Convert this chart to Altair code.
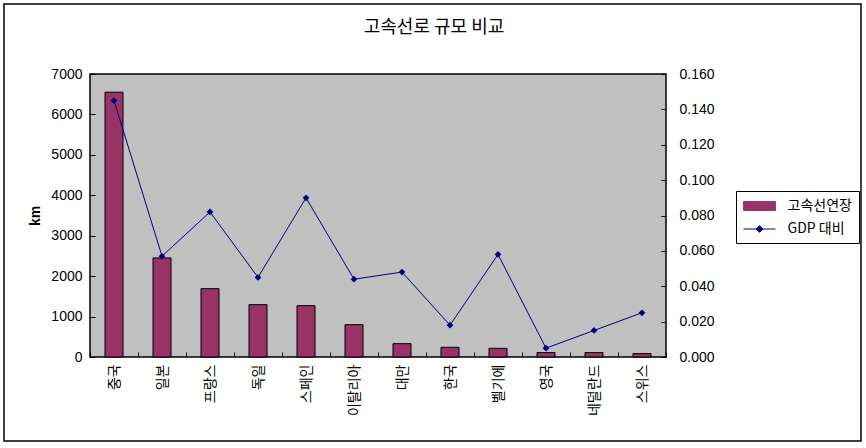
import altair as alt
import pandas as pd

countries = ["중국", "일본", "프랑스", "독일", "스페인", "이탈리아", "대만", "한국", "벨기에", "영국", "네덜란드", "스위스"]
km_values = [6550, 2450, 1690, 1295, 1270, 800, 330, 240, 215, 110, 110, 85]
gdp_ratio = [0.145, 0.057, 0.082, 0.045, 0.090, 0.044, 0.048, 0.018, 0.058, 0.005, 0.015, 0.025]
km_ticks = [0, 1000, 2000, 3000, 4000, 5000, 6000, 7000]
gdp_ticks = [0.0, 0.02, 0.04, 0.06, 0.08, 0.10, 0.12, 0.14, 0.16]
series_names = ["고속선연장", "GDP 대비"]
chart_title = "고속선로 규모 비교"

KR = "Noto Sans CJK KR"
NUM = "Liberation Sans"
BAR_COLOR = "#993366"
LINE_COLOR = "#000080"
TICK_COLOR = "black"

df = pd.DataFrame({"country": countries, "km": km_values, "gdp": gdp_ratio})

color_scale = alt.Scale(domain=series_names, range=[BAR_COLOR, LINE_COLOR])

RECT_PATH = "M-2.13,-0.6H2.13V0.6H-2.13Z"
LINE_PATH = "M-2.13,0H2.13M-0.45,0L0,-0.45L0.45,0L0,0.45Z"
is_bar = f"datum.value === '{series_names[0]}'"

legend = alt.Legend(
    title=None,
    orient="none",
    legendX=646,
    legendY=117,
    padding=7,
    strokeColor="black",
    fillColor="white",
    symbolSize=225,
    symbolOffset=8.5,
    labelOffset=20,
    rowPadding=8,
    labelFont=KR,
    labelFontSize=14,
    labelColor="black",
    symbolType={"expr": f"{is_bar} ? '{RECT_PATH}' : '{LINE_PATH}'"},
    symbolFillColor={"expr": f"{is_bar} ? '{BAR_COLOR}' : '{LINE_COLOR}'"},
    symbolStrokeColor={"expr": f"{is_bar} ? 'black' : '{LINE_COLOR}'"},
    symbolStrokeWidth=1,
    symbolOpacity=1,
)

# Axes are shifted 5px into the plot so that their (outward) ticks point inward,
# as in the reference; the plot frame itself comes from the view stroke.
x_axis = alt.Axis(
    title=None,
    labelAngle=-90,
    tickBand="extent",
    tickSize=5,
    tickWidth=1,
    tickColor=TICK_COLOR,
    offset=-5,
    domain=False,
    labelPadding=7,
    labelFont=KR,
    labelFontSize=14,
    labelColor="black",
    zindex=1,
)
x_enc = alt.X("country:N", sort=countries, scale=alt.Scale(paddingInner=0, paddingOuter=0), axis=x_axis)

km_axis = alt.Axis(
    orient="left",
    values=km_ticks,
    format="d",
    grid=False,
    tickSize=5,
    tickWidth=1,
    tickColor=TICK_COLOR,
    offset=-5,
    domain=False,
    labelPadding=8,
    labelFont=NUM,
    labelFontSize=14,
    labelColor="black",
    title="km",
    titleFont=NUM,
    titleFontSize=14,
    titleFontWeight="bold",
    titleColor="black",
    titlePadding=8,
    zindex=1,
)

gdp_axis = alt.Axis(
    orient="right",
    values=gdp_ticks,
    format=".3f",
    grid=False,
    tickSize=5,
    tickWidth=1,
    tickColor=TICK_COLOR,
    offset=-5,
    domain=False,
    labelPadding=13,
    labelFont=NUM,
    labelFontSize=14,
    labelColor="black",
    title=None,
    zindex=1,
)

bars = (
    alt.Chart(df)
    .transform_calculate(series=f"'{series_names[0]}'")
    .mark_bar(size=18, stroke="black", strokeWidth=1)
    .encode(
        x=x_enc,
        y=alt.Y("km:Q", scale=alt.Scale(domain=[0, 7000], nice=False), axis=km_axis),
        color=alt.Color("series:N", scale=color_scale, legend=legend),
    )
)

gdp_scale = alt.Scale(domain=[0, 0.16], nice=False)

line = (
    alt.Chart(df)
    .transform_calculate(series=f"'{series_names[1]}'")
    .mark_line(strokeWidth=1)
    .encode(
        x=x_enc,
        y=alt.Y("gdp:Q", scale=gdp_scale, axis=gdp_axis),
        color=alt.Color("series:N", scale=color_scale, legend=legend),
    )
)

points = (
    alt.Chart(df)
    .mark_point(shape="diamond", filled=True, size=45, color=LINE_COLOR, opacity=1)
    .encode(x=x_enc, y=alt.Y("gdp:Q", scale=gdp_scale, axis=gdp_axis))
)

frame = (
    alt.Chart(pd.DataFrame({"a": [0]}))
    .mark_rect(fill="transparent", stroke="black", strokeWidth=1.5, clip=False)
    .encode(x=alt.value(-86), x2=alt.value(771), y=alt.value(-70), y2=alt.value(367))
)

chart = (
    alt.layer(bars, alt.layer(line, points), frame)
    .resolve_scale(y="independent")
    .properties(
        width=576,
        height=283,
        padding={"left": 90, "top": 74, "right": 200, "bottom": 91},
        autosize=alt.AutoSizeParams(type="none"),
        title=alt.Title(
            chart_title,
            font=KR,
            fontSize=18,
            fontWeight="normal",
            color="black",
            anchor="middle",
            frame="group",
            baseline="alphabetic",
            offset=0,
            dx=56,
            dy=48,
        ),
        background="white",
    )
    .configure_view(fill="#C0C0C0", stroke="black", strokeWidth=1.5)
)

chart.save("out.html", embed_options={"renderer": "svg", "actions": False})
